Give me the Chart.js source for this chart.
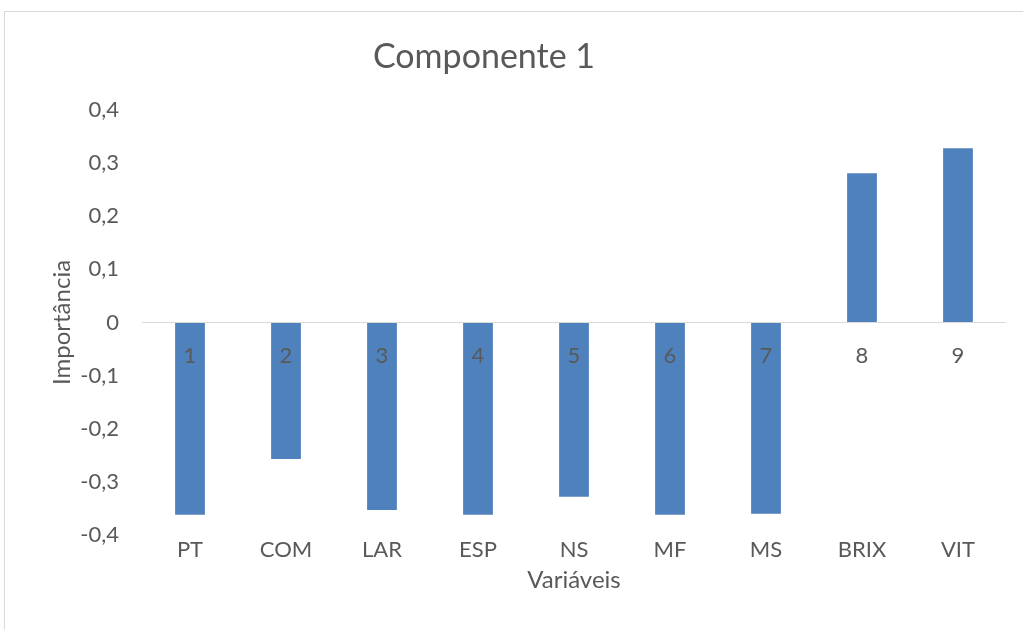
<!DOCTYPE html>
<html>
<head>
<meta charset="utf-8">
<script src="https://cdn.jsdelivr.net/npm/chart.js@4"></script>
<style>
html,body{margin:0;padding:0;background:#fff;}
#wrap{width:1023px;height:630px;position:relative;}
</style>
</head>
<body>
<div id="wrap"><canvas id="c"></canvas></div>
<script>
const categories = ["PT","COM","LAR","ESP","NS","MF","MS","BRIX","VIT"];
const indexLabels = ["1","2","3","4","5","6","7","8","9"];
const importancia = [-0.362,-0.257,-0.353,-0.362,-0.328,-0.362,-0.360,0.281,0.328];
const yTicks = [-0.4,-0.3,-0.2,-0.1,0,0.1,0.2,0.3,0.4];
const chartTitle = "Componente 1";

const FONT = "Lato, 'Open Sans', sans-serif";
const GREY = "#595959";

const framePlugin = {
  id: 'frame',
  beforeDraw(chart){
    const ctx = chart.ctx;
    ctx.save();
    ctx.fillStyle = '#fff';
    ctx.fillRect(0,0,chart.width,chart.height);
    ctx.strokeStyle = '#d9d9d9';
    ctx.lineWidth = 1;
    ctx.strokeRect(4.5, 11.5, chart.width + 20, chart.height + 20);
    ctx.restore();
  },
  afterDraw(chart){
    const ctx = chart.ctx;
    ctx.save();
    ctx.fillStyle = GREY;
    ctx.font = "34px " + FONT;
    ctx.textAlign = 'center';
    ctx.textBaseline = 'middle';
    ctx.fillText(chartTitle, 484, 57);
    ctx.restore();
  }
};

const fmt = v => {
  const r = Math.round(v*10)/10;
  if (r === 0) return "0";
  return r.toFixed(1).replace('.', ',');
};

new Chart(document.getElementById('c'), {
  type: 'bar',
  data: {
    labels: categories,
    datasets: [{
      data: importancia,
      backgroundColor: '#4F81BD',
      borderColor: '#4F81BD',
      borderWidth: 0,
      barPercentage: 0.31,
      categoryPercentage: 1.0,
      xAxisID: 'x',
      yAxisID: 'y'
    }]
  },
  options: {
    responsive: true,
    maintainAspectRatio: false,
    animation: false,
    layout: { padding: { left: 48, right: 17, top: 110, bottom: 35 } },
    plugins: { legend: { display: false }, tooltip: { enabled: false }, title: { display: false } },
    scales: {
      x: {
        type: 'category',
        offset: true,
        position: 'bottom',
        grid: { display: false, drawTicks: false },
        border: { display: false },
        ticks: { color: GREY, font: { family: FONT, size: 22 }, padding: 2, maxRotation: 0, autoSkip: false },
        title: { display: true, text: 'Variáveis', color: GREY, font: { family: FONT, size: 24 }, padding: 0 },
        afterFit(s){ s.height = 60; }
      },
      x2: {
        type: 'category',
        axis: 'x',
        labels: indexLabels,
        offset: true,
        position: { y: 0 },
        grid: { display: false, drawTicks: false },
        border: { display: false },
        ticks: { z: 1, color: GREY, font: { family: FONT, size: 22 }, padding: 20, maxRotation: 0, autoSkip: false }
      },
      y: {
        type: 'linear',
        min: -0.4,
        max: 0.4,
        afterBuildTicks(s){ s.ticks = yTicks.map(v => ({ value: v })); },
        grid: {
          drawTicks: false,
          color: c => (c.tick && Math.abs(c.tick.value) < 1e-9) ? '#d9d9d9' : 'rgba(0,0,0,0)',
          lineWidth: 1
        },
        border: { display: false },
        ticks: { color: GREY, font: { family: FONT, size: 22 }, padding: 23, callback: v => fmt(v) },
        title: { display: true, text: 'Importância', color: GREY, font: { family: FONT, size: 24 }, padding: 0 },
        afterFit(s){ s.width = 94; }
      }
    }
  },
  plugins: [framePlugin]
});
</script>
</body>
</html>
